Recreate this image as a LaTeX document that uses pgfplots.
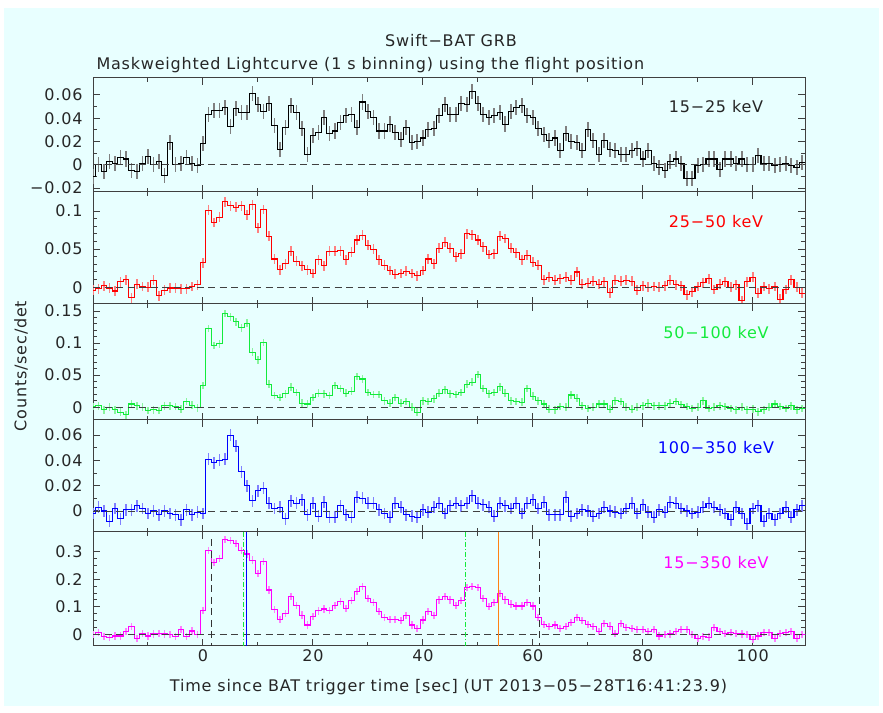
\documentclass[border=0pt]{standalone}
\usepackage{pgfplots}
\pgfplotsset{compat=1.18}
\usepackage{pgfplotstable}
\usepackage{fontspec}
\setmainfont{DejaVu Sans}[LetterSpace=5]
\definecolor{bg}{RGB}{232,255,255}
\definecolor{cgreen}{RGB}{20,235,60}
\definecolor{corange}{RGB}{255,130,20}
\definecolor{cmag}{RGB}{255,0,255}
\definecolor{cred}{RGB}{255,0,0}
\definecolor{cblue}{RGB}{0,0,255}
\newcommand\fs{\fontsize{16bp}{19bp}\selectfont}

\pgfplotstableread{
t a b c d e
-20 -0.010 -0.004 0.001 -0.002 -0.002
-19 0.000 -0.002 0.002 0.003 0.006
-18 -0.006 0.002 -0.004 0.000 -0.008
-17 0.003 -0.001 0.000 -0.008 -0.011
-16 0.001 -0.005 -0.004 0.002 -0.006
-15 0.006 0.007 -0.008 -0.006 -0.006
-14 0.005 0.010 -0.012 0.001 0.010
-13 -0.005 -0.014 0.005 0.001 0.028
-12 -0.006 0.004 0.002 0.004 -0.015
-11 0.001 0.001 0.000 0.002 0.004
-10 0.007 0.000 -0.005 -0.002 -0.006
-9 0.000 0.009 -0.004 0.000 0.001
-8 0.003 -0.011 -0.005 -0.003 0.004
-7 -0.009 -0.004 0.002 0.000 0.001
-6 0.019 -0.001 0.002 -0.002 -0.002
-5 0.000 -0.001 0.001 -0.003 -0.008
-4 0.001 -0.002 -0.003 -0.007 0.018
-3 0.006 -0.002 0.009 0.001 -0.008
-2 0.001 0.001 0.003 -0.003 0.012
-1 -0.001 0.003 -0.001 -0.001 -0.002
0 0.018 0.032 0.034 -0.002 0.086
1 0.043 0.101 0.123 0.041 0.306
2 0.047 0.085 0.096 0.038 0.261
3 0.047 0.092 0.099 0.040 0.276
4 0.049 0.112 0.146 0.041 0.345
5 0.033 0.107 0.141 0.060 0.340
6 0.048 0.105 0.133 0.051 0.330
7 0.045 0.107 0.124 0.031 0.304
8 0.045 0.095 0.131 0.020 0.292
9 0.061 0.108 0.086 0.008 0.270
10 0.052 0.078 0.074 0.016 0.221
11 0.046 0.102 0.101 0.018 0.264
12 0.053 0.067 0.036 0.006 0.161
13 0.034 0.037 0.018 0.002 0.091
14 0.013 0.023 0.015 0.003 0.054
15 0.032 0.031 0.021 -0.006 0.076
16 0.051 0.047 0.031 0.008 0.137
17 0.045 0.034 0.023 0.006 0.106
18 0.031 0.028 0.006 0.009 0.070
19 0.009 0.023 0.005 -0.003 0.034
20 0.025 0.018 0.015 0.006 0.064
21 0.028 0.036 0.022 -0.004 0.085
22 0.041 0.028 0.021 0.007 0.092
23 0.027 0.047 0.018 -0.005 0.088
24 0.029 0.047 0.034 -0.005 0.106
25 0.036 0.048 0.029 0.004 0.119
26 0.042 0.036 0.022 -0.003 0.094
27 0.043 0.046 0.025 -0.005 0.122
28 0.032 0.062 0.048 0.011 0.157
29 0.054 0.068 0.044 0.010 0.173
30 0.046 0.055 0.023 0.006 0.131
31 0.041 0.050 0.020 0.006 0.115
32 0.029 0.036 0.020 0.001 0.082
33 0.029 0.029 0.010 -0.002 0.062
34 0.035 0.022 0.006 -0.005 0.054
35 0.028 0.017 0.015 0.006 0.054
36 0.022 0.018 0.006 0.003 0.050
37 0.032 0.021 0.009 -0.003 0.067
38 0.019 0.018 0.000 -0.004 0.034
39 0.020 0.015 -0.008 -0.005 0.022
40 0.023 0.022 0.010 0.001 0.052
41 0.030 0.037 0.009 -0.001 0.082
42 0.031 0.031 0.013 0.003 0.067
43 0.042 0.051 0.022 0.006 0.125
44 0.052 0.059 0.027 -0.002 0.137
45 0.043 0.051 0.021 0.004 0.125
46 0.043 0.040 0.020 0.006 0.106
47 0.053 0.044 0.023 0.004 0.122
48 0.052 0.070 0.036 0.006 0.171
49 0.063 0.069 0.039 0.012 0.173
50 0.053 0.062 0.051 0.006 0.171
51 0.043 0.053 0.029 0.005 0.131
52 0.041 0.043 0.021 0.003 0.100
53 0.042 0.044 0.023 -0.004 0.115
54 0.045 0.067 0.032 0.006 0.149
55 0.035 0.064 0.022 0.004 0.125
56 0.046 0.051 0.010 0.002 0.110
57 0.049 0.045 0.009 0.006 0.103
58 0.051 0.036 0.008 -0.002 0.103
59 0.042 0.042 0.029 0.006 0.115
60 0.041 0.033 0.017 0.009 0.103
61 0.031 0.029 0.010 0.002 0.062
62 0.026 0.010 0.005 0.007 0.036
63 0.021 0.013 -0.003 -0.003 0.028
64 0.023 0.009 -0.004 -0.003 0.034
65 0.012 0.011 0.001 -0.003 0.022
66 0.027 0.013 0.000 0.011 0.028
67 0.020 0.009 0.019 -0.004 0.042
68 0.019 0.020 0.014 -0.002 0.062
69 0.012 0.004 0.002 0.001 0.050
70 0.030 0.005 -0.002 0.000 0.037
71 0.021 0.008 0.000 -0.004 0.028
72 0.009 0.004 0.005 -0.002 0.010
73 0.021 0.007 0.005 0.003 0.040
74 0.013 -0.007 -0.003 0.000 0.030
75 0.012 0.009 0.010 -0.001 0.004
76 0.009 0.008 0.009 -0.002 0.040
77 0.009 0.009 0.000 0.002 0.025
78 0.012 0.008 -0.003 0.006 0.022
79 0.014 -0.004 0.000 -0.002 0.016
80 0.005 0.002 0.002 0.005 0.018
81 0.012 0.000 0.006 -0.001 0.010
82 0.001 0.001 0.002 -0.005 0.018
83 -0.002 0.000 0.002 0.001 -0.006
84 -0.005 0.002 0.002 -0.001 -0.002
85 0.003 0.009 0.006 0.007 0.001
86 0.005 0.003 0.009 0.006 0.010
87 0.001 0.002 0.004 0.002 0.016
88 -0.012 -0.010 0.001 0.000 0.016
89 -0.012 -0.006 -0.002 -0.002 -0.002
90 -0.001 0.001 0.000 -0.001 -0.015
91 0.000 0.006 0.010 0.003 -0.008
92 0.005 0.011 -0.002 0.006 -0.010
93 0.005 -0.003 0.000 0.003 0.025
94 -0.004 0.004 0.002 0.001 0.010
95 0.005 0.007 0.001 -0.002 0.004
96 0.005 0.000 -0.002 -0.007 0.006
97 0.001 0.003 -0.004 0.003 0.004
98 0.005 -0.018 0.000 -0.002 0.001
99 0.000 0.007 -0.004 -0.010 -0.002
100 0.000 0.013 -0.003 0.002 -0.020
101 0.008 -0.008 -0.007 0.004 -0.006
102 0.001 0.001 -0.004 -0.008 0.006
103 0.001 -0.002 0.000 -0.002 0.006
104 -0.001 0.001 0.005 -0.007 -0.015
105 0.000 -0.016 0.001 -0.002 0.004
106 0.001 -0.003 -0.002 0.003 0.006
107 -0.001 0.010 0.002 -0.005 0.010
108 -0.002 0.000 -0.004 0.001 -0.015
109 0.002 -0.008 -0.002 0.004 -0.002
110 0.002 -0.008 -0.002 0.004 -0.002
}\lc

\pgfplotsset{
  panel/.style={
    anchor=north west, width=712bp, scale only axis,
    xmin=-20, xmax=109.5,
    xtick={-20,0,20,40,60,80,100}, minor x tick num=1,
    xticklabels={},
    scaled y ticks=false,
    axis line style={black!75, line width=1bp},
    every tick/.style={black!75, line width=1bp},
    major tick length=7bp, minor tick length=4bp,
    tick label style={font=\fs, text=black!85},
    yticklabel style={xshift=-7bp},
    clip=true,
  },
  zeroline/.style={black!75, line width=0.9bp, dash pattern=on 7bp off 4.5bp},
}
\newcommand\series[3]{%
  \addplot[const plot mark mid, #2!50, line width=1.1bp,
    error bars/.cd, y dir=both, y fixed=#3, error mark=none,
    error bar style={#2!50, line width=1.8bp, solid}] table[x=t,y=#1]{\lc};
  \addplot[const plot mark mid, #2, line width=1.1bp] table[x=t,y=#1]{\lc};
  \addplot[zeroline] coordinates {(-20,0) (109.5,0)};
}

\begin{document}
\begin{tikzpicture}
\path[use as bounding box, fill=white] (0,0) rectangle (883bp,713bp);
\fill[bg] (4bp,7bp) rectangle (879bp,705bp);

\node[font=\fs, anchor=base, text=black!85] at (451bp,666.3bp) {Swift−BAT GRB};
\node[font=\fs, anchor=base west, text=black!85] at (93bp,643bp) {Maskweighted Lightcurve (1 s binning) using the flight position};
\node[font=\fs, rotate=90, text=black!85] at (21bp,347bp) {Counts/sec/det};
\node[font=\fs, anchor=base, text=black!85] at (448.5bp,21.3bp) {Time since BAT trigger time [sec] (UT 2013−05−28T16:41:23.9)};

% panel 1
\begin{axis}[panel, at={(93bp,635bp)}, height=114bp,
  ymin=-0.0234, ymax=0.0746,
  ytick={-0.02,0,0.02,0.04,0.06}, yticklabels={−0.02,0,0.02,0.04,0.06},
  minor y tick num=1]
  \series{a}{black}{0.0065}
\end{axis}

% panel 2
\begin{axis}[panel, at={(93bp,521bp)}, height=112bp,
  ymin=-0.022, ymax=0.125,
  ytick={0,0.05,0.1}, yticklabels={0,0.05,0.1},
  minor y tick num=4]
  \series{b}{cred}{0.0065}
\end{axis}

% panel 3
\begin{axis}[panel, at={(93bp,409bp)}, height=116bp,
  ymin=-0.02, ymax=0.161,
  ytick={0,0.05,0.1,0.15}, yticklabels={0,0.05,0.1,0.15},
  minor y tick num=4]
  \series{c}{cgreen}{0.006}
\end{axis}

% panel 4
\begin{axis}[panel, at={(93bp,293bp)}, height=112bp,
  ymin=-0.0166, ymax=0.0719,
  ytick={0,0.02,0.04,0.06}, yticklabels={0,0.02,0.04,0.06},
  minor y tick num=1]
  \series{d}{cblue}{0.0047}
\end{axis}

% panel 5
\begin{axis}[panel, at={(93bp,181bp)}, height=114bp,
  ymin=-0.0425, ymax=0.372,
  ytick={0,0.1,0.2,0.3}, yticklabels={0,0.1,0.2,0.3},
  minor y tick num=3,
  xticklabels={,0,20,40,60,80,100}]
  \series{e}{cmag}{0.013}
  \addplot[black!80, line width=1bp, dash pattern=on 7bp off 4.5bp] coordinates {(1.5,0.345) (1.5,-0.0425)};
  \addplot[black!80, line width=1bp, dash pattern=on 7bp off 4.5bp] coordinates {(61.3,0.345) (61.3,-0.0425)};
  \addplot[cgreen, line width=1bp, dash pattern=on 5bp off 2bp on 1bp off 2bp] coordinates {(7.3,0.372) (7.3,-0.0425)};
  \addplot[cgreen, line width=1bp, dash pattern=on 5bp off 2bp on 1bp off 2bp] coordinates {(47.7,0.372) (47.7,-0.0425)};
  \addplot[cblue, line width=1.1bp] coordinates {(8.0,0.372) (8.0,-0.0425)};
  \addplot[corange, line width=1.3bp] coordinates {(53.8,0.372) (53.8,-0.0425)};
\end{axis}

\node[font=\fs, text=black!85] at (716bp,606bp) {15−25 keV};
\node[font=\fs, text=cred] at (716bp,491bp) {25−50 keV};
\node[font=\fs, text=cgreen] at (716bp,380bp) {50−100 keV};
\node[font=\fs, text=cblue] at (716bp,265bp) {100−350 keV};
\node[font=\fs, text=cmag] at (716bp,150bp) {15−350 keV};
\end{tikzpicture}
\end{document}
